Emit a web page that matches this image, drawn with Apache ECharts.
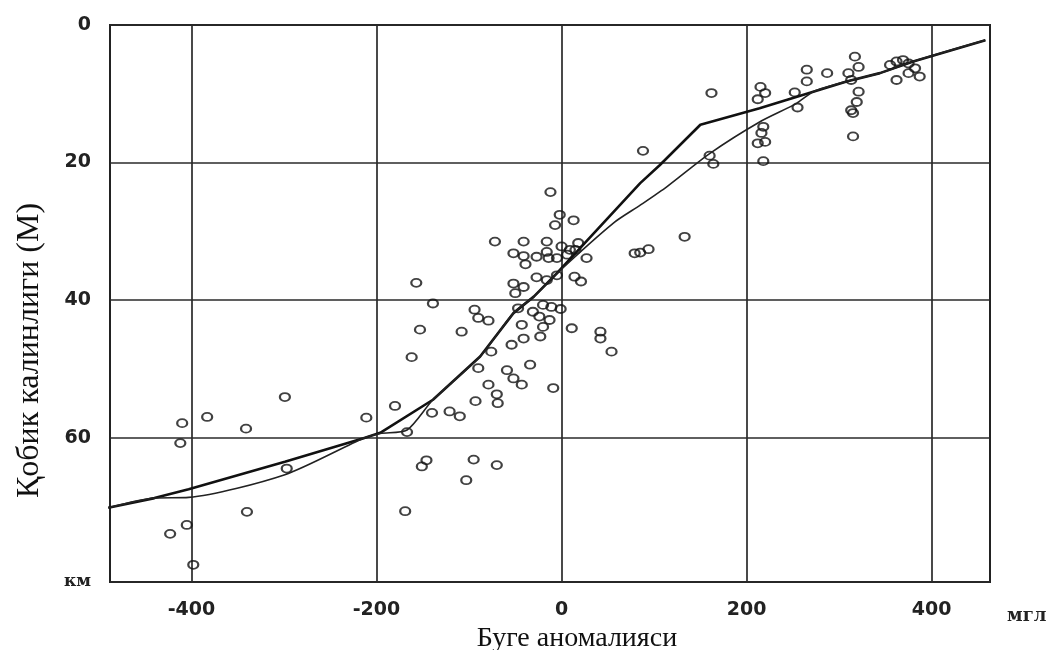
<!DOCTYPE html>
<html>
<head>
<meta charset="utf-8">
<script src="https://cdn.jsdelivr.net/npm/echarts@6/dist/echarts.min.js"></script>
<style>
  html, body { margin: 0; padding: 0; background: #fff; }
  #chart { width: 1059px; height: 650px; }
</style>
</head>
<body>
<div id="chart"></div>
<script>
// tick values
const xTicks = [-400, -200, 0, 200, 400];
const yTicks = [0, 20, 40, 60, 81];

// observed points: [bouguer anomaly, crust thickness]
const stations = [
  [-299, 54.1], [-383, 57.0], [-341, 58.7], [-410, 57.9], [-412, 60.8], [-211, 57.1],
  [-297, 64.5], [-340, 70.8], [-405, 72.7], [-423, 74.0], [-398, 78.5],
  [-180, 55.4], [-140, 56.4], [-121, 56.2], [-110, 56.9], [-167, 59.2], [-146, 63.3],
  [-151, 64.2], [-95, 63.2], [-70, 64.0], [-103, 66.2], [-169, 70.7], [-93, 54.7], [-69, 55.0],
  [-157, 37.5], [-139, 40.5], [-153, 44.3], [-162, 48.3], [-108, 44.6], [-94, 41.4],
  [-90, 42.6], [-79, 43.0], [-76, 47.5], [-90, 49.9], [-79, 52.3], [-70, 53.7], [-59, 50.2],
  [-52, 51.4], [-43, 52.3], [-34, 49.4], [-9, 52.8], [-54, 46.5], [-41, 45.6], [-43, 43.6],
  [-23, 45.3], [-47, 41.2], [-31, 41.7], [-24, 42.4], [-13, 42.9], [-20, 43.9], [-20, 40.7],
  [-11, 41.0], [-1, 41.3], [11, 44.1], [42, 44.6], [42, 45.6], [54, 47.5], [-52, 37.6],
  [-41, 38.1], [-50, 39.0], [-27, 36.7], [-16, 37.1], [-5, 36.4], [14, 36.6], [21, 37.3],
  [-12, 24.3], [-2, 27.6], [13, 28.4], [-7, 29.1], [-72, 31.5], [-41, 31.5], [-16, 31.5],
  [-52, 33.2], [-41, 33.6], [-39, 34.8], [-27, 33.7], [-16, 33.0], [0, 32.2], [9, 32.7],
  [18, 31.7], [-14, 33.9], [-5, 33.9], [6, 33.4], [15, 32.7], [27, 33.9], [79, 33.2],
  [88, 18.3], [162, 9.9], [164, 20.2], [160, 19.0], [133, 30.8], [85, 33.1], [94, 32.6],
  [215, 9.0], [220, 9.9], [212, 10.8], [218, 14.8], [216, 15.7], [212, 17.2], [220, 17.0],
  [218, 19.8], [255, 12.0], [252, 9.8], [265, 6.5], [265, 8.2], [287, 7.0],
  [317, 4.6], [321, 6.1], [310, 7.0], [313, 8.0], [321, 9.7], [319, 11.2], [313, 12.4],
  [315, 12.8], [315, 16.2], [355, 5.8], [362, 5.3], [369, 5.1], [375, 5.6], [362, 8.0],
  [375, 7.0], [387, 7.5], [382, 6.3]
];

// fitted curves
const curveA = [
  [-490, 70.2], [-440, 68.8], [-403, 67.5], [-299, 63.5], [-214, 60.1], [-196, 59.3],
  [-139, 54.5], [-88, 48.2], [-52, 41.9], [-30, 39.5], [-5, 36.1], [28, 31.3], [85, 23.0],
  [106, 20.4], [150, 14.5], [214, 12.1], [243, 10.9], [272, 9.7], [308, 8.2], [344, 7.0],
  [380, 5.3], [458, 2.2]
];
const curveB = [
  [-490, 70.2], [-440, 68.8], [-403, 68.7], [-299, 65.4], [-214, 60.1], [-196, 59.4],
  [-167, 58.9], [-139, 54.5], [-88, 48.2], [-52, 41.9], [-30, 39.5], [-5, 36.1], [56, 28.8],
  [85, 26.2], [114, 23.5], [160, 18.7], [214, 14.1], [254, 11.4], [272, 9.7], [308, 8.2],
  [344, 7.0], [380, 5.3], [458, 2.2]
];

const chart = echarts.init(document.getElementById('chart'));

const option = {
  backgroundColor: '#fff',
  animation: false,
  grid: {
    left: 110,
    right: 69,
    top: 25,
    bottom: 68,
    show: true,
    borderColor: '#222',
    borderWidth: 2,
    outerBoundsMode: 'none'
  },
  xAxis: {
    type: 'value',
    min: -488,
    max: 463,
    name: 'Буге аномалияси',
    nameLocation: 'middle',
    nameGap: 37,
    nameTextStyle: {
      fontFamily: 'Liberation Serif',
      fontSize: 28,
      color: '#111',
      padding: [0, 0, 0, 54]
    },
    axisLine: { show: false },
    axisTick: { show: false, customValues: xTicks },
    axisLabel: {
      customValues: xTicks,
      margin: 19,
      fontFamily: 'DejaVu Sans',
      fontWeight: 'bold',
      fontSize: 19,
      color: '#222'
    },
    splitLine: {
      show: true,
      lineStyle: { color: '#2a2a2a', width: 1.7 }
    }
  },
  yAxis: {
    type: 'value',
    inverse: true,
    min: 0,
    max: 81,
    name: 'Қобик калинлиги (М)',
    nameLocation: 'middle',
    nameGap: 64,
    nameTextStyle: {
      fontFamily: 'Liberation Serif',
      fontSize: 32,
      color: '#111',
      padding: [0, 94, 0, 0]
    },
    axisLine: { show: false },
    axisTick: { show: false, customValues: yTicks },
    axisLabel: {
      customValues: yTicks,
      margin: 19,
      fontFamily: 'DejaVu Sans',
      fontWeight: 'bold',
      fontSize: 19,
      color: '#222',
      formatter: function (v) {
        return v === 81 ? '{u|км}' : String(v);
      },
      rich: {
        u: { fontFamily: 'DejaVu Serif', fontWeight: 'bold', fontSize: 17, color: '#222' }
      }
    },
    splitLine: {
      show: true,
      lineStyle: { color: '#2a2a2a', width: 1.7 }
    }
  },
  graphic: [
    {
      type: 'text',
      left: 1007,
      top: 607,
      style: {
        text: 'мгл',
        font: 'bold 18px "DejaVu Serif"',
        fill: '#222'
      }
    }
  ],
  series: [
    {
      name: 'stations',
      type: 'scatter',
      symbol: 'circle',
      symbolSize: [10, 8],
      itemStyle: {
        color: 'rgba(255,255,255,0)',
        borderColor: '#111',
        borderWidth: 2
      },
      data: stations,
      z: 3
    },
    {
      name: 'A',
      type: 'line',
      showSymbol: false,
      lineStyle: { color: '#111', width: 2.6 },
      data: curveA,
      z: 4
    },
    {
      name: 'B',
      type: 'line',
      showSymbol: false,
      smooth: 0.25,
      lineStyle: { color: '#222', width: 1.6 },
      data: curveB,
      z: 4
    }
  ]
};

chart.setOption(option);
</script>
</body>
</html>
